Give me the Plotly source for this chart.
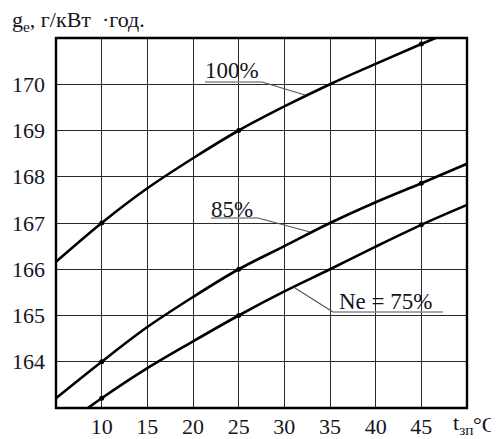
import plotly.graph_objects as go

# ---- data ----
t_values = [5, 10, 15, 20, 25, 30, 35, 40, 45, 50]
ge_100 = [166.16, 167.0, 167.75, 168.40, 169.0, 169.52, 170.0, 170.44, 170.87, 171.28]
ge_85 = [163.21, 164.0, 164.75, 165.40, 166.0, 166.50, 167.0, 167.45, 167.86, 168.28]
ge_75 = [162.50, 163.21, 163.86, 164.44, 165.0, 165.52, 166.0, 166.49, 166.96, 167.39]
marker_idx = [1, 4, 8]  # points marked with dots (t = 10, 25, 45)
x_ticks = [10, 15, 20, 25, 30, 35, 40, 45]
y_ticks = [164, 165, 166, 167, 168, 169, 170]
series_labels = ["100%", "85%", "Ne = 75%"]

# window pixel layout (page body has an 8px margin)
OFF = 8
WIN_W, WIN_H = 499, 439
W, H = WIN_W - OFF, WIN_H - OFF
L, R, T, B = 56, 467, 38, 408          # plot area in window pixels
XMIN, XMAX, YMIN, YMAX = 5, 50, 163, 171


def px2x(px):
    return XMIN + (px - L) / (R - L) * (XMAX - XMIN)


def px2y(py):
    return YMAX - (py - T) / (B - T) * (YMAX - YMIN)


def paper_x(px):
    return (px - L) / (R - L)


def paper_y(py):
    return (B - py) / (B - T)


FONT = "Liberation Serif, Times New Roman, DejaVu Serif, serif"
TXT = "#15151f"

fig = go.Figure()
for ys in (ge_100, ge_85, ge_75):
    fig.add_trace(go.Scatter(x=t_values, y=ys, mode="lines",
                             line=dict(color="black", width=2.6, shape="spline", smoothing=1.0),
                             hoverinfo="skip", showlegend=False))
    fig.add_trace(go.Scatter(x=[t_values[i] for i in marker_idx], y=[ys[i] for i in marker_idx],
                             mode="markers", marker=dict(color="black", size=5),
                             hoverinfo="skip", showlegend=False))

# labels with underline and leader lines (pixel layout positions)
label_layout = [
    # text left, text center y, underline y, underline x0, x1, leader end x, y
    (203, 70, 82, 205, 262, 305, 95),
    (209, 209, 218, 211, 258, 310, 232),
    (337, 301, 312, 333, 443, 295, 288),
]
shapes = []
annotations = []
for lab, (tx, ty, uy, ux0, ux1, lx, ly) in zip(series_labels, label_layout):
    annotations.append(dict(x=px2x(tx), y=px2y(ty), xref="x", yref="y", text=lab,
                            showarrow=False, xanchor="left", yanchor="middle",
                            font=dict(family=FONT, size=23, color=TXT)))
    shapes.append(dict(type="line", xref="x", yref="y", x0=px2x(ux0), x1=px2x(ux1),
                       y0=px2y(uy), y1=px2y(uy), line=dict(color="#8a8a8a", width=1.6)))
    sx = ux0 if lab == "Ne = 75%" else ux1
    shapes.append(dict(type="line", xref="x", yref="y", x0=px2x(sx), x1=px2x(lx),
                       y0=px2y(uy), y1=px2y(ly), line=dict(color="#555555", width=1.2)))

annotations.append(dict(x=paper_x(10), y=paper_y(21), xref="paper", yref="paper",
                        text="g<sub>e</sub>, г/кВт\u00a0\u00a0·год.", showarrow=False,
                        xanchor="left", yanchor="middle",
                        font=dict(family=FONT, size=22, color=TXT)))
annotations.append(dict(x=paper_x(451), y=paper_y(424), xref="paper", yref="paper",
                        text="t<sub>зп</sub>", showarrow=False,
                        xanchor="left", yanchor="middle",
                        font=dict(family=FONT, size=22, color=TXT)))
annotations.append(dict(x=paper_x(498), y=paper_y(424), xref="paper", yref="paper",
                        text="°C", showarrow=False,
                        xanchor="right", yanchor="middle",
                        font=dict(family=FONT, size=22, color=TXT)))

# frame
shapes.append(dict(type="rect", xref="paper", yref="paper", x0=0, x1=1, y0=0, y1=1,
                   line=dict(color="black", width=2.4), layer="above"))

fig.update_layout(
    width=W, height=H,
    margin=dict(l=L - OFF, r=W - (R - OFF), t=T - OFF, b=H - (B - OFF), pad=0, autoexpand=False),
    paper_bgcolor="white", plot_bgcolor="white",
    shapes=shapes, annotations=annotations,
    xaxis=dict(range=[XMIN, XMAX], tickvals=x_ticks, showgrid=True, gridcolor="#2a2a2a",
               gridwidth=1.3, zeroline=False, showline=False, ticks="", automargin=False,
               ticklabelstandoff=3,
               tickfont=dict(family=FONT, size=22, color=TXT), fixedrange=True),
    yaxis=dict(range=[YMIN, YMAX], tickvals=y_ticks, showgrid=True, gridcolor="#2a2a2a",
               gridwidth=1.3, zeroline=False, showline=False, ticks="", automargin=False,
               ticklabelstandoff=10,
               tickfont=dict(family=FONT, size=22, color=TXT), fixedrange=True),
)

fig.write_html("out.html")
